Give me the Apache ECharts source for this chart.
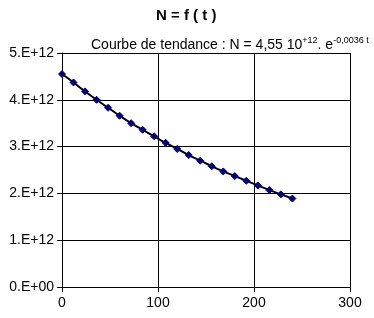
<!DOCTYPE html>
<html><head><meta charset="utf-8">
<script src="https://cdn.jsdelivr.net/npm/echarts@6/dist/echarts.min.js"></script>
<style>html,body{margin:0;padding:0;background:#fff}#c{width:374px;height:318px}</style>
</head><body><div id="c"></div>
<script>
const times = [0,12,24,36,48,60,72,84,96,108,120,132,144,156,168,180,192,204,216,228,240];
const nValues = [4.55,4.37,4.18,4.00,3.83,3.66,3.50,3.36,3.22,3.08,2.95,2.82,2.70,2.58,2.47,2.37,2.27,2.17,2.07,1.98,1.89].map(v=>v*1e12);
const yTickLabels = ['0.E+00','1.E+12','2.E+12','3.E+12','4.E+12','5.E+12'];
const xTicks = [0,100,200,300];

const F = '"Liberation Sans", Arial, sans-serif';
const chart = echarts.init(document.getElementById('c'));
chart.setOption({
  animation:false,
  backgroundColor:'#fff',
  title:[
    {text:'N = f ( t )', left:151, top:3, textStyle:{fontFamily:F,fontSize:15,fontWeight:'bold',color:'#000'}},
    {text:'{n|Courbe de tendance : N = 4,55 10}{s|+12}{n|. e}{s|-0,0036 t}', left:86, top:31,
     textStyle:{fontWeight:'normal',rich:{
       n:{fontFamily:F,fontSize:14,fontWeight:'normal',color:'#000',verticalAlign:'bottom',lineHeight:16},
       s:{fontFamily:F,fontSize:9,fontWeight:'normal',color:'#000',verticalAlign:'top',lineHeight:16,padding:[0,0,6,0]}
     }}}
  ],
  grid:{left:62,right:24,top:53,bottom:31,containLabel:false},
  xAxis:{type:'value',min:0,max:300,interval:100,
    axisLine:{show:true,onZero:false,lineStyle:{color:'#000',width:1}},
    axisTick:{show:true,length:5,lineStyle:{color:'#000'}},
    splitLine:{show:true,lineStyle:{color:'#000',width:1}},
    axisLabel:{fontFamily:F,fontSize:14,color:'#000',margin:9}},
  yAxis:{type:'value',min:0,max:5e12,interval:1e12,
    axisLine:{show:true,lineStyle:{color:'#000',width:1}},
    axisTick:{show:true,length:5,lineStyle:{color:'#000'}},
    splitLine:{show:true,lineStyle:{color:'#000',width:1}},
    axisLabel:{fontFamily:F,fontSize:14,color:'#000',margin:8,formatter:(v)=>yTickLabels[Math.round(v/1e12)]}},
  series:[{type:'line',data:times.map((t,i)=>[t,nValues[i]]),smooth:true,
    lineStyle:{color:'#000',width:2},
    symbol:'diamond',symbolSize:7,itemStyle:{color:'#000080',borderColor:'#000080'},
    z:3}]
});
</script></body></html>
